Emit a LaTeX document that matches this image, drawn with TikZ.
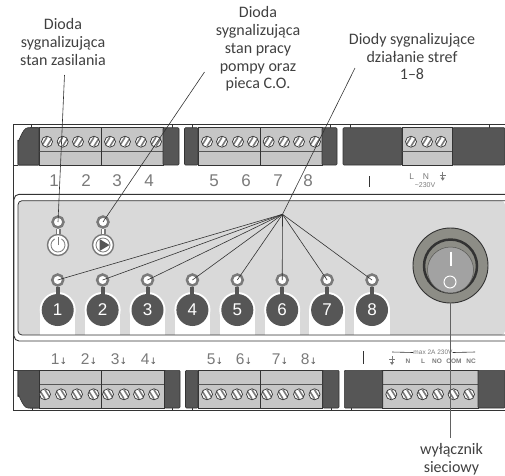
\documentclass[tikz,border=0pt]{standalone}
\usepackage{fontspec}
\setmainfont{Carlito}
\setsansfont{Liberation Sans}
\newfontfamily\symfont{DejaVu Sans}
\usetikzlibrary{positioning}
\definecolor{blockdark}{HTML}{565656}
\definecolor{blockgray}{HTML}{C6C6C6}
\definecolor{panelgray}{HTML}{D9D9D9}
\definecolor{edgedark}{HTML}{333333}
\definecolor{printgray}{HTML}{7A7A7A}
\definecolor{ringgray}{HTML}{8D8D86}
\definecolor{rockergray}{HTML}{A2A2A2}
\definecolor{labelgray}{HTML}{404040}

\begin{document}
\begin{tikzpicture}[x=1pt, y=-1pt,
  caption/.style = {align=center, font=\fontsize{16}{17.8}\selectfont, text=labelgray, inner sep=0pt},
  termnum/.style = {font=\sffamily\fontsize{17}{17}\selectfont, text=printgray, inner sep=0pt},
  tinytext/.style = {font=\sffamily\fontsize{6.5}{7}\selectfont, text=printgray, inner sep=0pt},
  contact/.style = {font=\sffamily\bfseries\fontsize{6.5}{7}\selectfont, text=printgray, inner sep=0pt},
  screw/.style = {circle, draw=edgedark, fill=white, line width=.7pt, minimum size=11pt, inner sep=0pt},
  screwup/.style = {screw, path picture={
      \draw[printgray, line width=1.6pt] (path picture bounding box.center) ++(-5,3.5) -- ++(5,-8);
      \draw[printgray, line width=1.6pt] (path picture bounding box.center) ++(0,4.5) -- ++(5,-8);}},
  screwdown/.style = {screw, path picture={
      \draw[printgray, line width=1.6pt] (path picture bounding box.center) ++(-5,-3.5) -- ++(5,8);
      \draw[printgray, line width=1.6pt] (path picture bounding box.center) ++(0,-4.5) -- ++(5,8);}},
  led/.style = {circle, draw=printgray, fill=white, line width=2.5pt, minimum size=11pt, inner sep=0pt},
  zone/.style = {circle, fill=blockdark, text=white, minimum size=32pt, inner sep=0pt, font=\sffamily\fontsize{17}{17}\selectfont},
  icon/.style = {circle, draw=printgray, fill=white, line width=1.4pt, minimum size=21pt, inner sep=0pt},
  leader/.style = {edgedark, line width=.6pt},
  earth/.pic = {
    \draw[printgray, line width=.8pt] (0,-5) -- (0,1) (-3,-1.5) -- (3,-1.5);
    \fill[printgray] (-2,1) -- (2,1) -- (0,4) -- cycle;}]
  \useasboundingbox (0,0) rectangle (505,475);

  % housing
  \draw[edgedark, line width=.9pt] (505,124.7) -- (13,124.7) -- (13,410.5) -- (505,410.5);
  \draw[edgedark, line width=.9pt] (13,165) -- (18,165) (13,370.3) -- (18,370.3);
  \foreach \x in {31,172,192,330,350,489} \draw[edgedark, line width=.6pt] (\x,124.7) -- (\x,128);
  \foreach \x in {32,172,192,331,351} \draw[edgedark, line width=.6pt] (\x,408) -- (\x,410.5);

  % top terminal blocks
  \foreach \a/\b/\c/\d in {18/39/163/179, 184.5/198/322/337, 343/402/452.5/505} {
    \filldraw[fill=blockgray, draw=edgedark, line width=.8pt] (\b,127.7) rectangle (\c,165);
    \draw[blockdark, line width=1.2pt] (\b,151.7) -- (\c,151.7);
    \filldraw[fill=blockdark, draw=edgedark, line width=.6pt, rounded corners=1pt] (\a,127.7) rectangle (\b,165);
    \filldraw[fill=blockdark, draw=edgedark, line width=.6pt, rounded corners=1pt] (\c,127.7) rectangle (\d,165);
  }
  \fill[white] (17,127) rectangle (30,140);
  \filldraw[fill=blockdark, draw=edgedark, line width=.6pt] (39,127.7) -- (28,127.7) to[out=180, in=-90] (18,140) -- (18,165) -- (39,165) -- cycle;
  \draw[edgedark, line width=.7pt] (101,127.7) -- (101,165) (260.3,127.7) -- (260.3,165);
  \foreach \x [count=\i] in {47,62.7,78,94,110,125,141,156,207,222,238,253,268.7,284,299,315,411,427,441}
    \node[screwup] (top\i) at (\x,141.7) {};

  % bottom terminal blocks
  \foreach \a/\b/\c/\d in {18/39.5/164.5/180, 185.5/198/322.7/339, 344.3/382.7/478/505} {
    \filldraw[fill=blockgray, draw=edgedark, line width=.8pt] (\b,370.3) rectangle (\c,408);
    \draw[blockdark, line width=1.2pt] (\b,384.3) -- (\c,384.3);
    \filldraw[fill=blockdark, draw=edgedark, line width=.6pt, rounded corners=1pt] (\a,370.3) rectangle (\b,408);
    \filldraw[fill=blockdark, draw=edgedark, line width=.6pt, rounded corners=1pt] (\c,370.3) rectangle (\d,408);
  }
  \fill[white] (17,397) rectangle (30,409);
  \filldraw[fill=blockdark, draw=edgedark, line width=.6pt] (39.5,408) -- (28,408) to[out=180, in=90] (18,396) -- (18,370.3) -- (39.5,370.3) -- cycle;
  \draw[edgedark, line width=.7pt] (101.5,370.3) -- (101.5,408) (260.5,370.3) -- (260.5,408);
  \foreach \x [count=\i] in {45,61,77,93.5,108,124,139,154,207,221,237,252,267,283,299,314.5,391.3,407,422.5,438,453.6,469}
    \node[screwdown] (bot\i) at (\x,394.3) {};

  % printed terminal numbers
  \foreach \x/\t in {54/1,86/2,117/3,149/4,214/5,246/6,278/7,308/8}
    \node[termnum] (topnum\t) at (\x,180.5) {\t};
  \draw[edgedark, line width=.7pt] (369.5,176) -- (369.5,187);
  \node[tinytext, font=\sffamily\fontsize{8.5}{8.5}\selectfont] (mainsL) at (411.7,176.7) {L};
  \node[tinytext, font=\sffamily\fontsize{8.5}{8.5}\selectfont] (mainsN) at (426,176.7) {N};
  \pic at (442.7,176.7) {earth};
  \node[tinytext, font=\sffamily\fontsize{7}{7}\selectfont] (mainsV) at (425,185) {\textasciitilde 230V};
  \foreach \x/\t in {59/1,89/2,119/3,149/4,215/5,244/6,280/7,309/8}
    \node[termnum, font=\sffamily\fontsize{15.5}{15.5}\selectfont] (botnum\t) at (\x,359) {\t{\symfont\fontsize{9}{9}\selectfont\textcolor{blockdark}{↓}}};
  \draw[edgedark, line width=.7pt] (363.3,351) -- (363.3,364);
  \node[tinytext] (relaymax) at (433,352.5) {max 2A 230V};
  \draw[edgedark, line width=.6pt] (392,352) -- (relaymax.west) (relaymax.east) -- (475,352);
  \pic at (392,361) {earth};
  \foreach \x/\t in {408/N,423/L,437/NO,454/COM,471/NC}
    \node[contact] (relay\t) at (\x,361.5) {\t};

  % front panel
  \draw[edgedark, line width=.9pt, rounded corners=5pt] (505,194.3) -- (14,194.3) -- (14,341) -- (505,341);
  \fill[panelgray, rounded corners=4pt] (18,200.7) rectangle (505,335);
  \foreach \n in {1,...,8} {
    \pgfmathsetmacro\xx{57.7+(\n-1)*44.9}
    \fill[white] (\xx,310) circle[radius=18];
    \fill[white] (\xx-17.7,310) rectangle (\xx+17.7,335);
    \node[zone] (zone\n) at (\xx,310) {\n};
    \node[led] (led\n) at (\xx,280) {};
    \draw[blockdark, line width=4pt] (led\n) -- (zone\n);
  }
  \draw[edgedark, line width=.8pt, rounded corners=4pt] (505,200.7) -- (18,200.7) -- (18,335) -- (505,335);

  % power and pump diodes
  \node[led] (ledpower) at (58,222) {};
  \node[icon] (iconpower) at (58,245) {};
  \node[led] (ledpump) at (103,222) {};
  \node[icon] (iconpump) at (103,245) {};
  \foreach \a/\b in {ledpower/iconpower, ledpump/iconpump} {
    \draw[printgray, line width=5pt] (\a) -- (\b);
    \draw[white, line width=2.5pt] (\a) -- (\b);
  }
  \draw[printgray, line width=.8pt] (iconpower.center) ++(-60:7) arc[start angle=-60, end angle=240, radius=7];
  \draw[printgray, line width=.8pt] (iconpower.center) -- ++(0,-8);
  \draw[printgray, line width=.8pt] (iconpump.center) circle[radius=7];
  \fill[blockdark] (iconpump.center) ++(-3.5,-6) -- ++(10,6) -- ++(-10,6) -- cycle;

  % mains switch
  \node[circle, draw=edgedark, fill=ringgray, line width=.9pt, minimum size=75pt, inner sep=0pt] (switch) at (450.5,265.5) {};
  \node[circle, draw=edgedark, fill=ringgray, line width=2.5pt, minimum size=53pt, inner sep=0pt] (rockerseat) at (450.5,266) {};
  \node[circle, draw=edgedark!60!ringgray, fill=rockergray, line width=.5pt, minimum size=46pt, inner sep=0pt] (rocker) at (450.5,270) {};
  \draw[white, line width=1.5pt] (451,251.7) -- (451,266);
  \node[circle, draw=white, line width=1pt, minimum size=12pt, inner sep=0pt] (rockerO) at (450,282) {};

  % captions
  \node[caption] (capPower) at (63,42) {Dioda\\sygnalizująca\\stan zasilania};
  \node[caption] (capPump) at (258,49) {Dioda\\sygnalizująca\\stan pracy\\pompy oraz\\pieca C.O.};
  \node[caption] (capZones) at (412,56.5) {Diody sygnalizujące\\działanie stref\\1–8};
  \node[caption] (capSwitch) at (451.5,459) {wyłącznik\\sieciowy};
  \coordinate (startPower) at (64.5,75);
  \coordinate (startPump) at (204.5,72);
  \coordinate (startZones) at (355,68);
  \coordinate (endSwitch) at (450.5,438);
  \coordinate (hub) at (282.5,214.3);

  % leaders
  \draw[leader] (startPower) -- (ledpower.center);
  \draw[leader] (startPump) -- (ledpump.center);
  \draw[leader] (startZones) -- (hub);
  \foreach \n in {1,...,8} \draw[leader] (hub) -- (led\n.center);
  \draw[printgray!80!black, line width=1pt] (switch.south) -- (endSwitch);
\end{tikzpicture}
\end{document}
